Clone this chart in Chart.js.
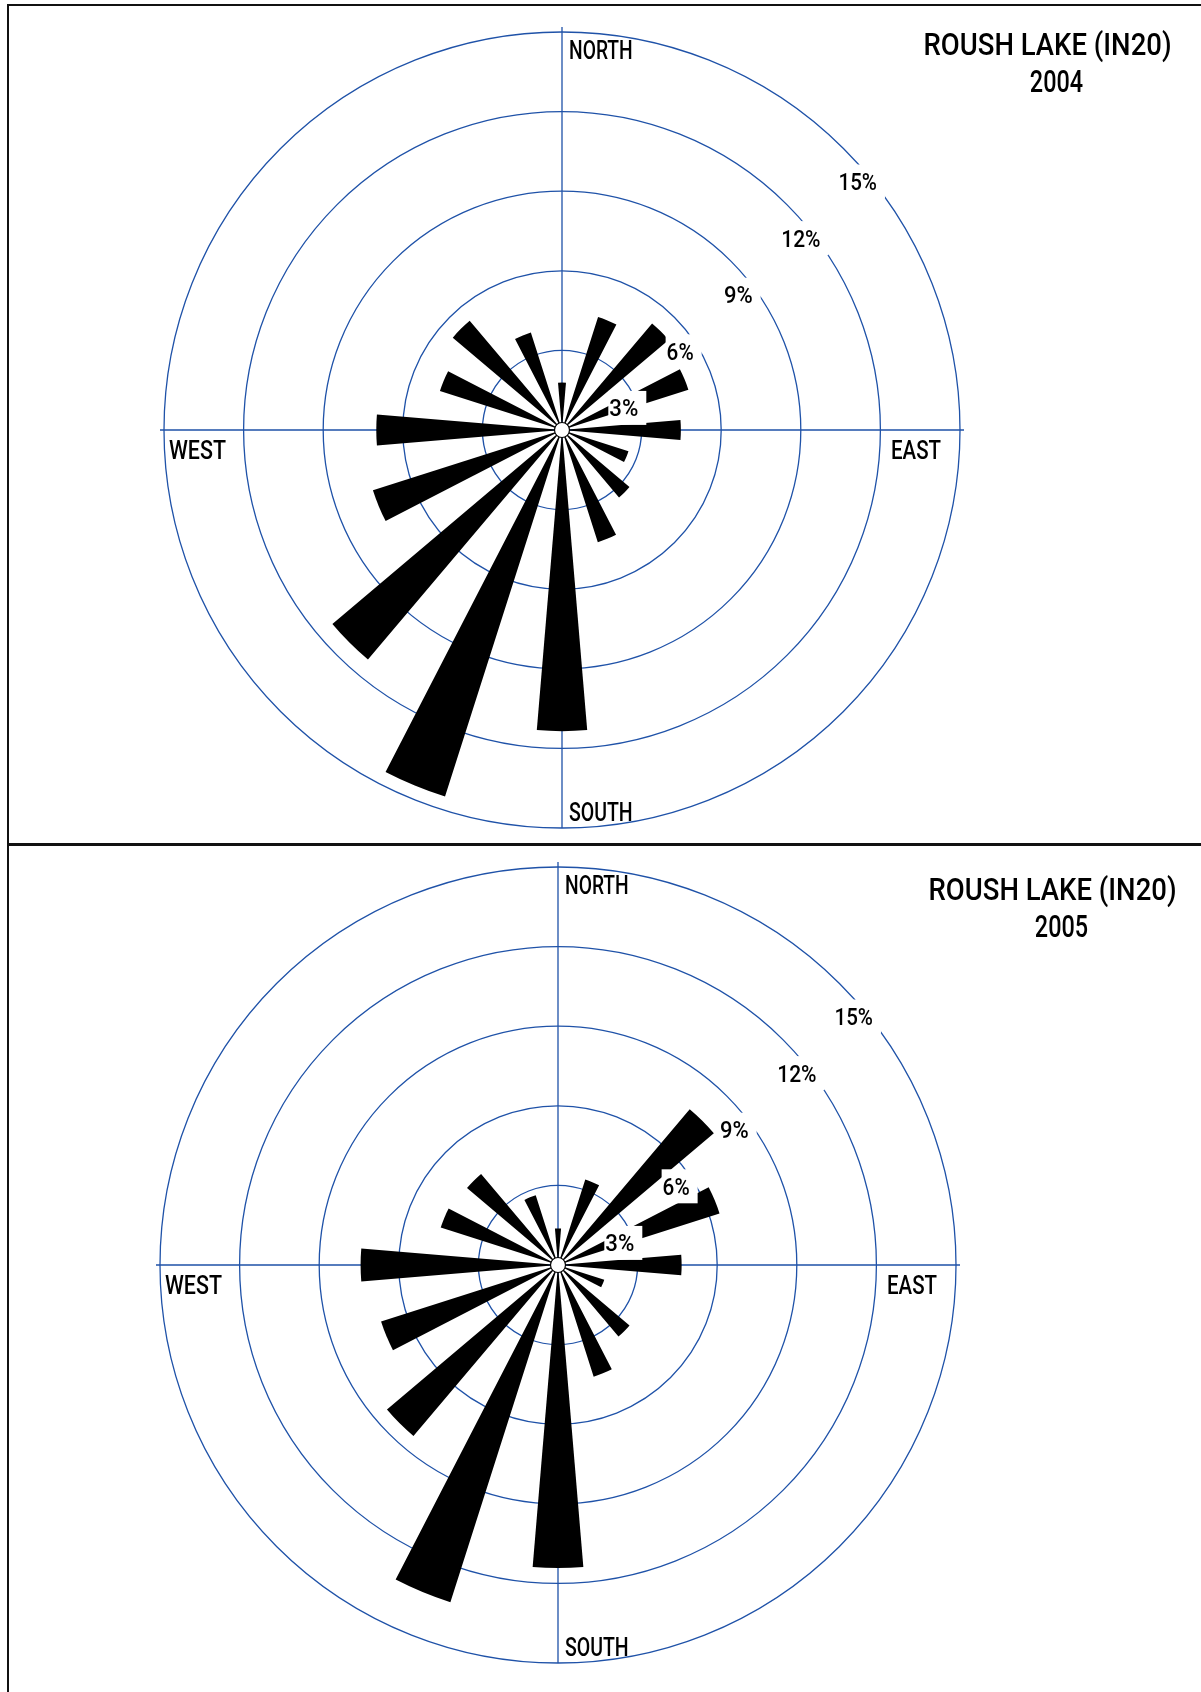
<!DOCTYPE html>
<html>
<head>
<meta charset="utf-8">
<title>Roush Lake wind rose</title>
<script src="https://cdn.jsdelivr.net/npm/chart.js@4.4.1/dist/chart.umd.min.js"></script>
<style>
body { margin:0; background:#fff; }
#page { position:relative; width:1201px; height:1692px; overflow:hidden; }
#page canvas { position:absolute; left:0; }
#rose2004 { top:0; }
#rose2005 { top:845px; }
.rule { position:absolute; background:#111; }
</style>
</head>
<body>
<div id="page">
	<canvas id="rose2004" width="1201" height="845"></canvas>
	<canvas id="rose2005" width="1201" height="847"></canvas>
	<div class="rule" style="left:7px;top:4px;width:1194px;height:2px"></div>
	<div class="rule" style="left:7px;top:4px;width:2px;height:1688px"></div>
	<div class="rule" style="left:7px;top:843px;width:1194px;height:3px"></div>
</div>

<script>
// frequency of wind direction, percent of hours
var directions = ['N','NNE','NE','ENE','E','ESE','SE','SSE','S','SSW','SW','WSW','W','WNW','NW','NNW'];
var freq2004 = [1.79, 4.47, 5.26, 5.0, 4.48, 2.63, 3.33, 4.44, 11.35, 14.5, 11.33, 7.48, 7.0, 4.83, 5.39, 3.86];
var freq2005 = [1.38, 3.38, 7.69, 6.39, 4.66, 1.83, 3.53, 4.42, 11.42, 13.34, 8.44, 7.0, 7.44, 4.64, 4.49, 2.76];
var ringValues = [3, 6, 9, 12, 15];
var ringLabels = ['3%', '6%', '9%', '12%', '15%'];
var compassLabels = ['NORTH', 'EAST', 'SOUTH', 'WEST'];
var stationName = 'ROUSH LAKE (IN20)';
var years = ['2004', '2005'];

var WEDGE = 9.6;
var GAP = 22.5 - WEDGE;
var BLUE = '#1f52a8';
var FONT = 'Roboto, "Liberation Sans", sans-serif';

// draws text squeezed to a given width (the original face is a condensed one)
function putText(ctx, text, x, y, size, width, align) {
	ctx.save();
	ctx.font = '500 ' + size + 'px ' + FONT;
	ctx.textAlign = 'left';
	ctx.textBaseline = 'alphabetic';
	var w = ctx.measureText(text).width;
	var sx = width ? width / w : 0.82;
	var left = (align == 'center') ? x - w * sx / 2 : x;
	ctx.translate(left, y);
	ctx.scale(sx, 1);
	ctx.fillStyle = '#000';
	ctx.fillText(text, 0, 0);
	ctx.restore();
	return w * sx;
}

var roseDecor = {
	id: 'roseDecor',
	beforeDatasetsDraw: function(chart) {
		var ctx = chart.ctx, s = chart.scales.r;
		var cx = s.xCenter, cy = s.yCenter, R = s.drawingArea;
		ctx.save();
		ctx.strokeStyle = BLUE;
		ctx.lineWidth = 1.3;
		ctx.beginPath();
		ctx.moveTo(cx - R - 4, cy); ctx.lineTo(cx + R + 4, cy);
		ctx.moveTo(cx, cy - R - 5); ctx.lineTo(cx, cy + R);
		ctx.stroke();
		ctx.restore();
	},
	afterDatasetsDraw: function(chart, args, opts) {
		var ctx = chart.ctx, s = chart.scales.r;
		var cx = s.xCenter, cy = s.yCenter, R = s.drawingArea;

		// white hub
		ctx.save();
		ctx.beginPath();
		ctx.arc(cx, cy, 7.5, 0, Math.PI * 2);
		ctx.fillStyle = '#fff';
		ctx.fill();
		ctx.lineWidth = 1.2;
		ctx.strokeStyle = '#000';
		ctx.stroke();
		ctx.restore();

		// ring labels on white boxes, along the NE diagonal
		var widths = [29, 27, 28.7, 39.3, 38.4];
		for (var i = 0; i < ringValues.length; i++) {
			var r = s.getDistanceFromCenterForValue(ringValues[i]);
			var left = cx + r * 0.72 - 10;
			var base = cy - r * 0.711 + 43;
			ctx.fillStyle = '#fff';
			ctx.fillRect(left - 1, base - 16.5 - 9, widths[i] + 9, 16.5 + 17.5);
			putText(ctx, ringLabels[i], left, base, 24, widths[i]);
		}

		putText(ctx, compassLabels[0], cx + 7, cy - R + 27, 26, 63.7);
		putText(ctx, compassLabels[1], cx + R - 69, cy + 29, 26, 50);
		putText(ctx, compassLabels[2], cx + 7, cy + R - 7, 26, 63.7);
		putText(ctx, compassLabels[3], cx - R + 5, cy + 29, 26, 57);

		putText(ctx, stationName, opts.titleX, 55, 31, 248, 'center');
		putText(ctx, opts.year, opts.titleX + 9, 91.5, 31, 53.3, 'center');
	}
};

function makeRose(canvasId, values, year, pad, titleX) {
	var labels = [], data = [], colors = [];
	for (var i = 0; i < directions.length; i++) {
		labels.push(directions[i]); data.push(values[i]); colors.push('#000');
		labels.push(''); data.push(0); colors.push('rgba(0,0,0,0)');
	}
	var ctx = document.getElementById(canvasId).getContext('2d');
	return new Chart(ctx, {
		type: 'polarArea',
		data: {
			labels: labels,
			datasets: [{
				data: data,
				backgroundColor: colors,
				borderWidth: 0,
				angle: function(c) { return c.index % 2 == 0 ? WEDGE : GAP; }
			}]
		},
		options: {
			responsive: false,
			animation: false,
			events: [],
			layout: { padding: pad },
			plugins: {
				legend: { display: false },
				tooltip: { enabled: false },
				roseDecor: { year: year, titleX: titleX }
			},
			scales: {
				r: {
					min: 0,
					max: 15,
					startAngle: -WEDGE / 2,
					ticks: { stepSize: 3, display: false },
					grid: { circular: true, color: BLUE, lineWidth: 1.3 },
					angleLines: { display: false },
					pointLabels: { display: false }
				}
			}
		},
		plugins: [roseDecor]
	});
}

makeRose('rose2004', freq2004, years[0], {left: 164, top: 32, right: 241, bottom: 17}, 1047.5);
makeRose('rose2005', freq2005, years[1], {left: 160, top: 22, right: 245, bottom: 29}, 1052.5);
</script>
</body>
</html>
